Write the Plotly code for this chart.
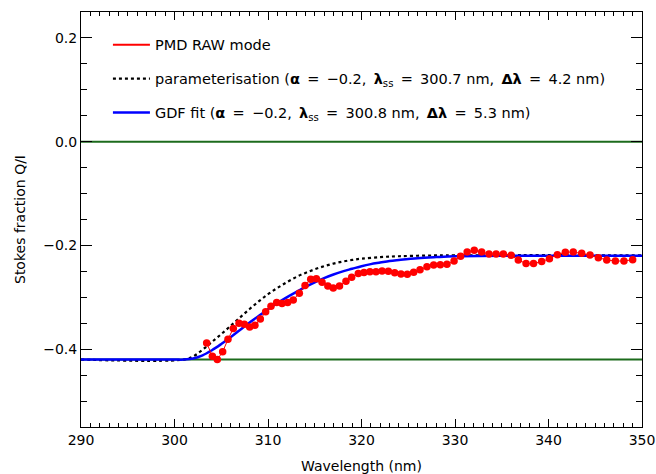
import plotly.graph_objects as go

# ---- data ----
pmd_wl = [303.44, 304.05, 304.58, 305.15, 305.72, 306.29, 306.9, 307.47, 308.04, 308.6,
          309.18, 309.75, 310.32, 310.93, 311.5, 312.1, 312.7, 313.35, 313.96, 314.57,
          315.17, 315.78, 316.4, 316.98, 317.65, 318.34, 318.95, 319.66, 320.27, 320.9,
          321.55, 322.2, 322.87, 323.55, 324.22, 324.9, 325.58, 326.26, 327.0, 327.72,
          328.43, 329.14, 329.9, 330.6, 331.3, 332.06, 332.85, 333.64, 334.4, 335.17,
          336.0, 336.77, 337.6, 338.4, 339.27, 340.1, 340.95, 341.8, 342.65, 343.55,
          344.44, 345.33, 346.23, 347.15, 348.07, 349.0]
pmd_q = [-0.388, -0.4135, -0.420, -0.405, -0.381, -0.360, -0.350, -0.352, -0.357, -0.354,
         -0.342, -0.328, -0.317, -0.310, -0.312, -0.310, -0.305, -0.292, -0.277, -0.265,
         -0.264, -0.271, -0.278, -0.282, -0.278, -0.269, -0.2615, -0.254, -0.252, -0.2506,
         -0.2506, -0.2493, -0.2499, -0.2525, -0.255, -0.2557, -0.2518, -0.2467, -0.241, -0.2377,
         -0.237, -0.2365, -0.230, -0.221, -0.2125, -0.2093, -0.2125, -0.2164, -0.2164, -0.2164,
         -0.219, -0.228, -0.235, -0.235, -0.231, -0.2255, -0.2178, -0.213, -0.2126, -0.215,
         -0.2184, -0.2235, -0.228, -0.230, -0.230, -0.2275]

param_wl = [290, 301, 302, 303, 304, 305, 306, 307, 308, 309, 310, 311, 312, 313, 314,
            315, 316, 317, 318, 319, 320, 322, 324, 327, 330, 350]
param_q = [-0.420, -0.420, -0.414, -0.401, -0.386, -0.371, -0.355, -0.339, -0.323, -0.308,
           -0.294, -0.282, -0.271, -0.261, -0.253, -0.246, -0.240, -0.235, -0.231, -0.228,
           -0.2255, -0.2225, -0.2208, -0.2195, -0.219, -0.219]

gdf_wl = [290, 300, 301, 302, 303, 304, 305, 306, 307, 308, 309, 310, 311, 312, 313, 314,
          315, 316, 317, 318, 319, 320, 321, 322, 323, 324, 326, 328, 330, 335, 350]
gdf_q = [-0.420, -0.420, -0.420, -0.418, -0.412, -0.402, -0.390, -0.377, -0.363, -0.349,
         -0.336, -0.323, -0.311, -0.300, -0.290, -0.280, -0.271, -0.263, -0.256, -0.250,
         -0.245, -0.240, -0.236, -0.233, -0.230, -0.228, -0.2245, -0.2225, -0.221, -0.220,
         -0.220]

ref_levels = [0.0, -0.42]
x_range = [290, 350]
y_range = [-0.55, 0.25]

SP = "\u2002"
legend_labels = [
    "PMD RAW mode",
    f"parameterisation (<b>α</b>{SP}={SP}−0.2,{SP}<b>λ</b><sub>ss</sub>{SP}={SP}300.7 nm,{SP}<b>Δλ</b>{SP}={SP}4.2 nm)",
    f"GDF fit (<b>α</b>{SP}={SP}−0.2,{SP}<b>λ</b><sub>ss</sub>{SP}={SP}300.8 nm,{SP}<b>Δλ</b>{SP}={SP}5.3 nm)",
]

FONT = "DejaVu Sans"
GREEN = "#1c6b1c"

fig = go.Figure()

for lvl in ref_levels:
    fig.add_trace(go.Scatter(x=x_range, y=[lvl, lvl], mode="lines",
                             line=dict(color=GREEN, width=2), showlegend=False,
                             hoverinfo="skip"))

fig.add_trace(go.Scatter(x=param_wl, y=param_q, mode="lines", line_shape="spline",
                         line=dict(color="black", width=2.2, dash="dot"),
                         name=legend_labels[1], legendgroup="b", legendrank=2))
fig.add_trace(go.Scatter(x=gdf_wl, y=gdf_q, mode="lines", line_shape="spline",
                         line=dict(color="#0000ff", width=2.5),
                         name=legend_labels[2], legendgroup="c", legendrank=3))
fig.add_trace(go.Scatter(x=pmd_wl, y=pmd_q, mode="lines+markers",
                         line=dict(color="#ff0000", width=1),
                         marker=dict(color="#ff0000", size=7.5),
                         showlegend=False))
fig.add_trace(go.Scatter(x=[None], y=[None], mode="lines",
                         line=dict(color="#ff0000", width=2),
                         name=legend_labels[0], legendgroup="a", legendrank=1))

axis_common = dict(showline=True, linecolor="black", linewidth=1, mirror="ticks",
                   ticks="inside", tickcolor="black", showgrid=False, zeroline=False,
                   automargin=False,
                   tickfont=dict(family=FONT, size=14, color="black"))

fig.update_xaxes(range=x_range, dtick=10, tick0=290, ticklen=8,
                 minor=dict(dtick=1, ticklen=4, ticks="inside", tickcolor="black"),
                 title=dict(text="Wavelength (nm)", font=dict(family=FONT, size=14, color="black"),
                            standoff=14),
                 **axis_common)
fig.update_yaxes(range=y_range, dtick=0.2, tick0=0, tickformat=".1f", ticklen=11,
                 minor=dict(dtick=0.05, ticklen=6, ticks="inside", tickcolor="black"),
                 title=dict(text="Stokes fraction Q/I", font=dict(family=FONT, size=14, color="black"),
                            standoff=14),
                 **axis_common)

fig.update_layout(
    width=656, height=474,
    margin=dict(l=81, r=14, t=12, b=47),
    paper_bgcolor="white", plot_bgcolor="white",
    font=dict(family=FONT, size=14, color="black"),
    legend=dict(x=0.048, y=0.9595, xanchor="left", yanchor="top",
                bgcolor="rgba(0,0,0,0)", itemwidth=37, tracegroupgap=12,
                font=dict(family=FONT, size=14.5, color="black"), traceorder="grouped"),
)

fig.write_html("out.html")
